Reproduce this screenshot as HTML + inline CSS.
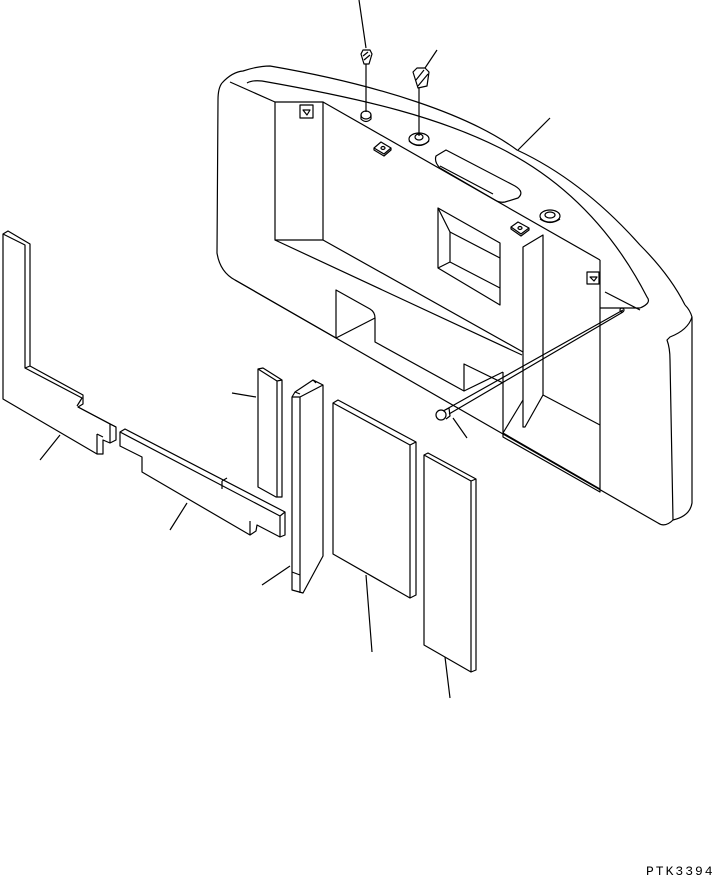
<!DOCTYPE html>
<html><head><meta charset="utf-8"><style>
html,body{margin:0;padding:0;background:#fff;}
svg{display:block;}
text{font-family:"Liberation Mono",monospace;}
</style></head><body>
<svg width="714" height="877" viewBox="0 0 714 877" xmlns="http://www.w3.org/2000/svg" fill="none" stroke="#000" stroke-width="1.2" stroke-linejoin="round">
<!-- Counterweight outer -->
<path d="M222,83 Q218,88 218,100 L217,253 Q220,272 235,280 L658,523 Q665,528 673,520 Q690,516 692,503 L692,317 Q690,310 685,305"/>
<path d="M222,83 Q232,72 243,71 Q258,66 270,66 C380,85 470,115 517,150 C560,170 600,200 640,245 Q670,275 685,305"/>
<path d="M247,83 Q252,80 262,81 C370,100 440,118 500,148 C560,178 610,225 647,297 Q652,303 640,308"/>
<path d="M692,317 Q688,330 670,337 L667,340 Q670,348 670,360 L673,520"/>
<!-- top front edge -->
<path d="M230,82 L275,102"/>
<path d="M323,102 L600,260"/>
<path d="M600,308 L640,308 M605,292 L640,310"/>
<!-- left recess -->
<rect x="275" y="102" width="48" height="138"/>
<path d="M275,240 L522,355 M323,240 L523,352"/>
<rect x="300" y="105" width="13" height="13"/>
<path d="M303,110 L310,110 L307,115 Z"/>
<!-- notch 1 -->
<path d="M235,280 L336,338 L336,290 L370,309 Q375,312 375,318 L375,342 L464,391 L464,364 L503,383"/>
<path d="M336,338 L375,318"/>
<path d="M464,391 L503,372"/>
<!-- right recess -->
<path d="M503,372 L503,437 L600,492 L600,260"/>
<path d="M503,433 L600,489"/>
<path d="M543,395 L600,425"/>
<rect x="587" y="272" width="12" height="12"/>
<path d="M590,277 L597,277 L594,281 Z"/>
<!-- vertical plate -->
<path d="M523,247 L543,235 L543,395 L525,427 L523,427 Z"/>
<path d="M523,400 L503,433"/>
<!-- square hole -->
<path d="M438,208 L438,268 L500,305 L500,243 Z"/>
<path d="M438,208 L450,232 L450,262 L500,288 M450,232 L500,258 M438,268 L450,262"/>
<!-- slot -->
<path d="M446,150 L515,186 Q525,192 518,198 L505,202 Q500,203 495,200 L440,168 Q434,162 436,156 Z"/>
<path d="M440,166 L493,194"/>
<!-- washers / pads -->
<ellipse cx="419" cy="139" rx="10" ry="6"/><ellipse cx="419" cy="137" rx="4" ry="3"/>
<path d="M409,141 Q419,150 429,141"/>
<ellipse cx="550" cy="216" rx="10" ry="6"/><ellipse cx="550" cy="215" rx="5" ry="3"/>
<path d="M540,219 Q550,226 560,219"/>
<ellipse cx="366" cy="115" rx="5" ry="4"/><path d="M361,115 L361,119 Q366,124 371,119 L371,115"/>
<path d="M374,148 L381,142 L391,148 L384,154 Z M374,148 L374,150 L384,156 L391,150 L391,148"/>
<ellipse cx="383" cy="148" rx="2" ry="1.5"/>
<path d="M511,227 L518,222 L529,228 L521,234 Z M511,227 L511,229 L521,236 L529,230 L529,228"/>
<ellipse cx="520" cy="228" rx="2" ry="1.5"/>
<!-- bolts -->
<path d="M361,54 L363,50 L370,50 L372,54 L369,64 L364,64 Z M363,56 L368,52 M364,60 L370,55"/>
<path d="M366,64 L366,112"/>
<path d="M413,72 L417,68 L425,68 L429,72 L427,86 L418,88 Z M416,80 L424,70 M418,86 L428,74"/>
<path d="M419,88 L419,136"/>
<!-- pin -->
<path d="M623,310 L445,410 M623,312 L449,414"/>
<circle cx="622" cy="310" r="2"/>
<circle cx="441" cy="415" r="5"/><path d="M443,411 L449,408 L450,416 L446,419"/>
<!-- leader lines -->
<path d="M359,0 L366,48 M437,50 L425,68 M550,118 L518,150 M232,393 L256,397 M40,460 L60,435 M170,530 L187,503 M262,585 L290,566 M372,652 L366,575 M450,698 L445,657 M467,438 L453,418"/>
<!-- L-bar -->
<path d="M3,234 L8,231 L30,244 L30,366 L83,395 L83,404 L78,407 L116,427 L116,440 L110,443 L103,440 L103,454 L97,454 L3,399 Z"/>
<path d="M3,234 L25,245 L25,368 L82,398 L77,406 M25,368 L30,366 M78,407 L110,424 L110,443 M110,424 L116,427 M97,434 L97,454 M97,434 L103,437"/>
<!-- long bar -->
<path d="M120,432 L125,429 L285,512 L285,535 L280,537 L257,525 L256,531 L250,535 L142,472 L142,457 L120,446 Z"/>
<path d="M120,432 L280,516 L280,537 M280,516 L285,512 M222,481 L222,489 M222,481 L227,478 M250,521 L250,535"/>
<!-- strip A -->
<path d="M258,369 L263,368 L282,380 L282,497 L276,497 L258,487 Z M258,369 L277,381 L277,497 M277,381 L282,380"/>
<!-- strip B -->
<path d="M292,397 L292,590 L303,593 L323,556 L323,385 L313,380 L295,392 Z M292,397 L300,397 L300,593 M300,397 L323,385 M292,572 L300,575 M295,392 L300,394 M313,380 L316,383"/>
<!-- panel C -->
<path d="M333,403 L338,400 L416,442 L416,595 L410,598 L333,554 Z M333,403 L410,445 L410,598 M410,445 L416,442"/>
<!-- panel D -->
<path d="M424,455 L428,453 L476,479 L476,670 L471,672 L424,645 Z M424,455 L471,481 L471,672 M471,481 L476,479"/>
<text x="646" y="875" font-size="13" fill="#000" stroke="none" letter-spacing="2">PTK3394</text>
</svg>
</body></html>
